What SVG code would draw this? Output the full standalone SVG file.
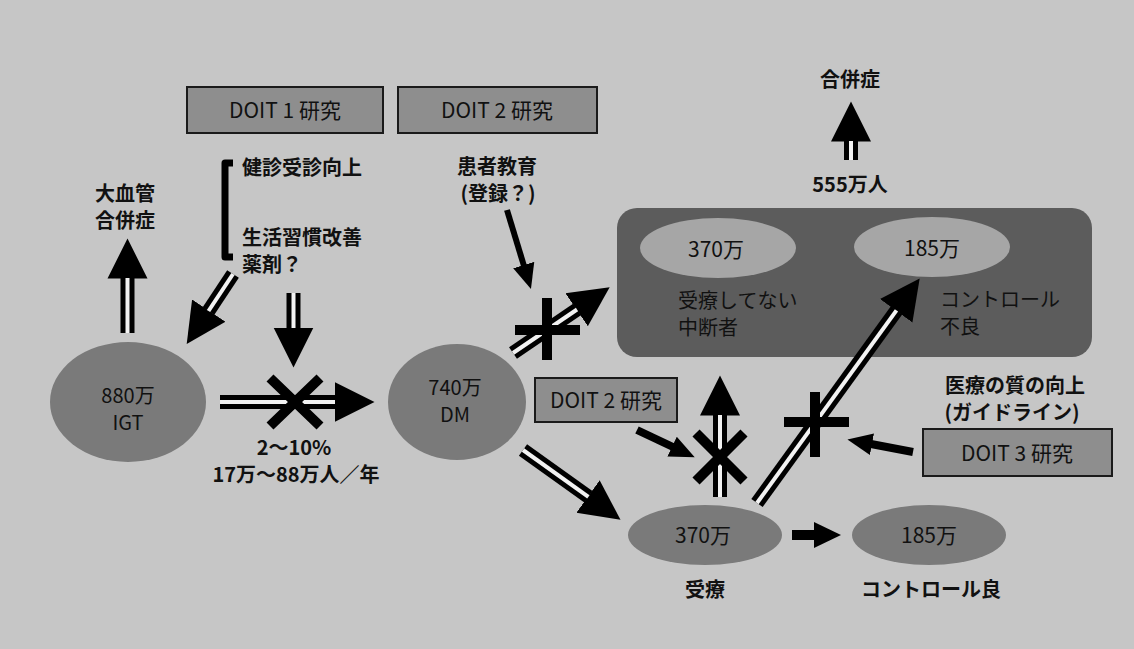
<svg xmlns="http://www.w3.org/2000/svg" width="1134" height="649" viewBox="0 0 1134 649">
<style>
text{font-family:"Noto Sans CJK JP","Noto Sans",sans-serif;fill:#111}
.b{font-weight:bold;font-size:20px}
.n{font-size:20px}
.t{font-size:21px}
.m{text-anchor:middle}
.box{fill:#8e8e8e;stroke:#1a1a1a;stroke-width:2}
.ell{fill:#7a7a7a}
.dbl{fill:none;stroke:#000;stroke-width:14}
.din{fill:none;stroke:#f2f2f2;stroke-width:4}
.one{fill:none;stroke:#000}
.x{stroke:#000;stroke-width:10;fill:none}
</style>
<defs>
<marker id="hL" markerUnits="userSpaceOnUse" viewBox="0 -21 41 42" markerWidth="41" markerHeight="42" refX="0.5" refY="0" orient="auto"><path d="M0,-20 L40,0 L0,20 Z" fill="#000"/></marker>
<marker id="hS" markerUnits="userSpaceOnUse" viewBox="0 -12 26 24" markerWidth="26" markerHeight="24" refX="1" refY="0" orient="auto"><path d="M0,-11 L25,0 L0,11 Z" fill="#000"/></marker>
<marker id="hM" markerUnits="userSpaceOnUse" viewBox="0 -14 28 28" markerWidth="28" markerHeight="28" refX="1" refY="0" orient="auto"><path d="M0,-13 L27,0 L0,13 Z" fill="#000"/></marker>
</defs>
<rect width="1134" height="649" fill="#c6c6c6"/>

<g id="doit1"><rect class="box" x="187" y="87" width="196" height="46"/><text class="t m" x="285" y="118">DOIT 1 研究</text></g>
<g id="doit2-top"><rect class="box" x="398" y="87" width="199" height="46"/><text class="t m" x="497" y="118">DOIT 2 研究</text></g>
<g id="doit2-mid"><rect class="box" x="535" y="378" width="142" height="44"/><text class="t m" x="606" y="408">DOIT 2 研究</text></g>
<g id="doit3"><rect class="box" x="923" y="429" width="189" height="47"/><text class="t m" x="1017" y="461">DOIT 3 研究</text></g>

<g id="igt"><ellipse class="ell" cx="128" cy="402" rx="78" ry="60"/><text class="n m" x="128" y="403">880万</text><text class="n m" x="128" y="430">IGT</text></g>
<g id="dm"><ellipse class="ell" cx="457" cy="402" rx="69" ry="58"/><text class="n m" x="455" y="395">740万</text><text class="n m" x="455" y="422">DM</text></g>

<g id="untreated-group"><rect x="617" y="208" width="475" height="149" rx="20" fill="#5c5c5c"/></g>
<g id="untreated"><ellipse cx="718" cy="248" rx="78" ry="30" fill="#a6a6a6"/><text class="t m" x="716" y="257">370万</text><text class="n" x="678" y="308">受療してない</text><text class="n" x="678" y="335">中断者</text></g>
<g id="poor-control"><ellipse cx="932" cy="247" rx="78" ry="30" fill="#a6a6a6"/><text class="t m" x="932" y="256">185万</text><text class="n" x="940" y="307">コントロール</text><text class="n" x="940" y="334">不良</text></g>

<g id="treated"><ellipse class="ell" cx="705" cy="535" rx="77" ry="30"/><text class="t m" x="703" y="543">370万</text><text class="b m" x="705" y="597">受療</text></g>
<g id="good-control"><ellipse class="ell" cx="929" cy="535" rx="77" ry="30"/><text class="t m" x="929" y="543">185万</text><text class="b m" x="931" y="597">コントロール良</text></g>

<g id="labels">
<text class="b m" x="125" y="201">大血管</text>
<text class="b m" x="125" y="228">合併症</text>
<path d="M233,163 H225 V257 H233" fill="none" stroke="#000" stroke-width="7" stroke-linejoin="round"/>
<text class="b" x="242" y="175">健診受診向上</text>
<text class="b" x="242" y="245">生活習慣改善</text>
<text class="b" x="242" y="272">薬剤？</text>
<text class="b m" x="497" y="174">患者教育</text>
<text class="b m" x="498" y="201">(登録？)</text>
<text class="b m" x="850" y="87">合併症</text>
<text class="b m" x="850" y="192">555万人</text>
<text class="b m" x="294" y="455">2～10%</text>
<text class="b m" x="296" y="482">17万～88万人／年</text>
<text class="b m" x="1015" y="393">医療の質の向上</text>
<text class="b m" x="1012" y="420">(ガイドライン)</text>
</g>

<g id="connectors">
<path class="dbl" d="M127.5,333 V278" marker-end="url(#hL)"/><path class="din" d="M127.5,333 V278"/>
<path class="dbl" d="M233,274 L208.5,311" marker-end="url(#hL)"/><path class="din" d="M233,274 L208.5,311"/>
<path class="dbl" d="M293.5,293 V328" marker-end="url(#hL)"/><path class="din" d="M293.5,293 V328"/>
<path class="dbl" d="M220,402 H335" marker-end="url(#hL)"/><path class="din" d="M220,402 H335"/>
<path class="x" d="M270,378 L320,426 M320,378 L270,426"/>
<path class="dbl" d="M513,353 L577,309.5" marker-end="url(#hL)"/><path class="din" d="M513,353 L577,309.5"/>
<path class="x" d="M547,298 V360 M515,330 H580"/>
<path class="dbl" d="M523,450 L588.4,496.8" marker-end="url(#hL)"/><path class="din" d="M523,450 L588.4,496.8"/>
<path class="dbl" d="M720,497 V415" marker-end="url(#hL)"/><path class="din" d="M720,497 V415"/>
<path class="x" d="M696,433 L744,481 M744,433 L696,481"/>
<path class="dbl" d="M757,503 L896.5,310.4" marker-end="url(#hL)"/><path class="din" d="M757,503 L896.5,310.4"/>
<path class="x" d="M815,392 V457 M784,422 H849"/>
<path class="dbl" d="M851,160 V141" marker-end="url(#hL)"/><path class="din" d="M851,160 V141"/>
<path class="one" stroke-width="6" d="M507,210 L524,266" marker-end="url(#hS)"/>
<path class="one" stroke-width="8" d="M637,430 L673,447" marker-end="url(#hS)"/>
<path class="one" stroke-width="8" d="M913,452 L871,444" marker-end="url(#hS)"/>
<path class="one" stroke-width="10" d="M792,535 H815" marker-end="url(#hM)"/>
</g>
</svg>
